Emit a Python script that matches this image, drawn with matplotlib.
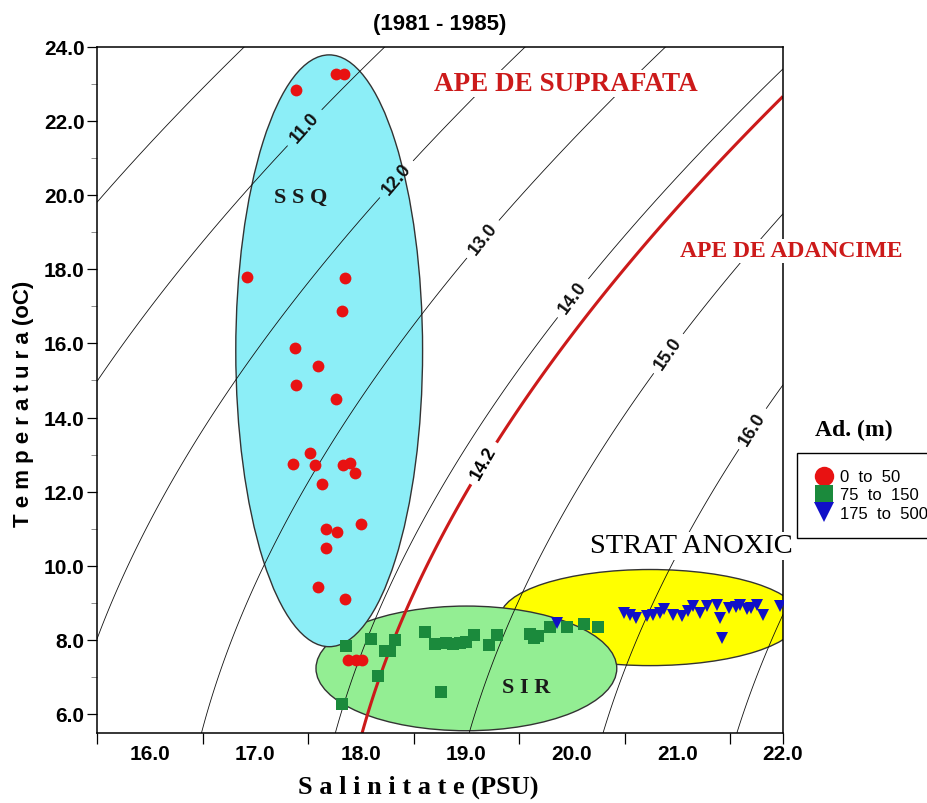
import numpy as np
import matplotlib
matplotlib.use("Agg")
import matplotlib.pyplot as plt
from matplotlib.patches import Ellipse
from matplotlib.lines import Line2D
from matplotlib import font_manager as fm

# --- data (salinity PSU, temperature oC) ---
red_sal = [17.39, 17.76, 17.84, 16.92, 17.85, 17.82, 17.38, 17.59, 17.39, 17.76,
           17.52, 17.36, 17.57, 17.83, 17.90, 17.94, 17.63, 17.67, 17.77, 18.00,
           17.67, 17.59, 17.85, 17.88, 17.95, 18.01]
red_temp = [22.84, 23.27, 23.27, 17.78, 17.75, 16.88, 15.88, 15.38, 14.87, 14.51,
            13.05, 12.74, 12.72, 12.72, 12.78, 12.51, 12.22, 11.01, 10.92, 11.12,
            10.49, 9.44, 9.12, 7.46, 7.46, 7.46]

green_sal = [17.86, 18.10, 18.32, 18.23, 18.28, 18.16, 17.82, 18.61, 18.70, 18.81,
             18.94, 19.07, 19.21, 19.29, 18.76, 19.60, 19.68, 19.64, 19.79, 19.95,
             20.11, 20.25, 18.87, 19.00]
green_temp = [7.84, 8.04, 8.00, 7.72, 7.71, 7.03, 6.29, 8.22, 7.89, 7.93,
              7.93, 8.13, 7.86, 8.13, 6.61, 8.16, 8.11, 8.05, 8.36, 8.36,
              8.44, 8.36, 7.90, 7.95]

blue_sal = [19.86, 20.49, 20.61, 20.71, 20.77, 20.87, 20.96, 21.04, 21.15, 21.21,
            21.28, 21.37, 21.40, 21.42, 21.49, 21.59, 21.66, 21.75, 21.81, 21.97,
            20.55, 20.83, 21.10, 21.55, 21.70]
blue_temp = [8.47, 8.74, 8.61, 8.65, 8.69, 8.83, 8.69, 8.65, 8.92, 8.74,
             8.92, 8.96, 8.61, 8.07, 8.87, 8.96, 8.83, 8.96, 8.69, 8.92,
             8.68, 8.72, 8.80, 8.90, 8.88]

legend_labels = ["0  to  50", "75  to  150", "175  to  500"]

plain_levels = [10.0, 17.0]
label_levels = [11.0, 12.0, 13.0, 14.0, 15.0, 16.0]
boundary_level = [14.2]
label_pos = [(17.49, 21.76), (18.34, 20.42), (19.16, 18.80),
             (20.03, 17.18), (20.90, 15.75), (21.72, 13.68)]
boundary_label_pos = [(19.18, 12.74)]

xticks = [16.0, 17.0, 18.0, 19.0, 20.0, 21.0, 22.0]
xtick_marks = [15.5, 16.5, 17.5, 18.5, 19.5, 20.5, 21.5, 22.0]
yticks = [6.0, 8.0, 10.0, 12.0, 14.0, 16.0, 18.0, 20.0, 22.0, 24.0]
yminor = [7.0, 9.0, 11.0, 13.0, 15.0, 17.0, 19.0, 21.0, 23.0]


def sigma_t(S, T):
    # UNESCO EOS-80, surface pressure
    rw = (999.842594 + 6.793952e-2 * T - 9.095290e-3 * T**2 + 1.001685e-4 * T**3
          - 1.120083e-6 * T**4 + 6.536332e-9 * T**5)
    a = 0.824493 - 4.0899e-3 * T + 7.6438e-5 * T**2 - 8.2467e-7 * T**3 + 5.3875e-9 * T**4
    b = -5.72466e-3 + 1.0227e-4 * T - 1.6546e-6 * T**2
    return rw + a * S + b * S**1.5 + 4.8314e-4 * S**2 - 1000.0


names = {f.name for f in fm.fontManager.ttflist}
narrow = "Liberation Sans Narrow" in names
SANS = "Liberation Sans"
SERIF = "Liberation Serif"

fig = plt.figure(figsize=(9.27, 8.035), dpi=100)
ax = fig.add_axes([97 / 927, 70 / 803, 686 / 927, 686 / 803])

# water mass ellipses
ax.add_patch(Ellipse((20.74, 8.61), 2.84, 2.59, facecolor="#FFFF00",
                     edgecolor="#333333", lw=1, zorder=1.0))
ax.add_patch(Ellipse((19.00, 7.24), 2.85, 3.36, facecolor="#93EE93",
                     edgecolor="#333333", lw=1, zorder=1.1))
ax.add_patch(Ellipse((17.70, 15.80), 1.77, 15.95, facecolor="#8CEEF7",
                     edgecolor="#333333", lw=1, zorder=1.2))

# isopycnals
ss, tt = np.meshgrid(np.linspace(15.5, 22.0, 400), np.linspace(5.5, 24.0, 400))
sig = sigma_t(ss, tt)
ax.contour(ss, tt, sig, levels=plain_levels, colors="#111111", linewidths=0.6, zorder=2)
cs = ax.contour(ss, tt, sig, levels=label_levels, colors="#111111",
                linewidths=0.6, zorder=2)
lbl = ax.clabel(cs, fmt="%.1f", fontsize=13, inline=True,
                inline_spacing=4, manual=label_pos)
cs2 = ax.contour(ss, tt, sig, levels=boundary_level, colors="#CC1A1A",
                 linewidths=2.2, zorder=2.1)
lbl2 = ax.clabel(cs2, fmt="%.1f", fontsize=13, inline=True, inline_spacing=4,
                 colors="black", manual=boundary_label_pos)
for t in list(lbl) + list(lbl2):
    t.set_fontweight("bold")
    t.set_family(SANS)

# points
ax.plot(red_sal, red_temp, "o", color="#E81212", ms=8.5, mew=0, zorder=3)
ax.plot(green_sal, green_temp, "s", color="#1B8A3C", ms=8.5, mew=0, zorder=3)
ax.plot(blue_sal, blue_temp, "v", color="#1010C8", ms=9, mew=0, zorder=3.1)
ax.set_xlim(15.5, 22.0)
ax.set_ylim(5.5, 24.0)

# annotations
wbox = dict(facecolor="white", edgecolor="none", pad=1)
ax.text(19.944, 23.0, "APE DE SUPRAFATA", color="#CC1A1A", family=SERIF,
        fontweight="bold", fontsize=19.5, ha="center", va="center", bbox=wbox, zorder=4)
ax.text(22.076, 18.48, "APE DE ADANCIME", color="#CC1A1A", family=SERIF,
        fontweight="bold", fontsize=17, ha="center", va="center", bbox=wbox,
        zorder=4, clip_on=False)
ax.text(21.128, 10.53, "STRAT ANOXIC", color="black", family=SERIF,
        fontsize=20.5, ha="center", va="center", bbox=wbox, zorder=4)
ax.text(17.433, 19.93, "S S Q", color="#1a1a1a", family=SERIF, fontweight="bold",
        fontsize=16, ha="center", va="center", zorder=4)
ax.text(19.565, 6.73, "S I R", color="#1a1a1a", family=SERIF, fontweight="bold",
        fontsize=16, ha="center", va="center", zorder=4)

# axes styling
for sp in ax.spines.values():
    sp.set_linewidth(1.1)
ax.set_xticks(xtick_marks)
ax.set_xticklabels([])
ax.set_xticks(xticks, minor=True)
ax.set_xticklabels(["%.1f" % v for v in xticks], minor=True)
ax.xaxis.remove_overlapping_locs = False
ax.tick_params(axis="x", which="major", direction="out", length=8, width=0.9)
ax.tick_params(axis="x", which="minor", length=0, pad=8, labelsize=15)
ax.set_yticks(yticks)
ax.set_yticklabels(["%.1f" % v for v in yticks])
ax.set_yticks(yminor, minor=True)
ax.tick_params(axis="y", which="major", direction="out", length=7, width=0.9,
               pad=2, labelsize=15)
ax.tick_params(axis="y", which="minor", direction="out", length=4, width=0.6,
               color="#777777")
for t in ax.get_xticklabels(minor=True) + ax.get_yticklabels():
    t.set_fontweight("bold")
    t.set_family(SANS)

ax.set_title("(1981 - 1985)", fontsize=16, fontweight="bold", family=SANS, pad=12)

if narrow:
    fig.text(24 / 927, 1 - 404 / 803, "T e m p e r a t u r a (oC)", rotation=90,
             family="Liberation Sans Narrow", fontweight="bold", fontsize=19,
             ha="center", va="center")
else:
    fig.text(24 / 927, 1 - 404 / 803, "T e m p e r a t u r a (oC)", rotation=90,
             family=SANS, fontweight="bold", fontsize=16, ha="center", va="center")
fig.text(418 / 927, 1 - 787 / 803, "S a l i n i t a t e (PSU)", family=SERIF,
         fontweight="bold", fontsize=19, ha="center", va="center")

# legend
fig.text(854 / 927, 1 - 430 / 803, "Ad. (m)", family=SERIF, fontweight="bold",
         fontsize=17, ha="center", va="center")
handles = [Line2D([], [], ls="none", marker="o", color="#E81212", ms=14, mew=0),
           Line2D([], [], ls="none", marker="s", color="#1B8A3C", ms=13.5, mew=0),
           Line2D([], [], ls="none", marker="v", color="#1010C8", ms=14, mew=0)]
leg = fig.legend(handles, legend_labels, loc="upper left",
                 bbox_to_anchor=(797 / 927, 1 - 453 / 803), frameon=True,
                 fancybox=False, edgecolor="black", framealpha=1,
                 prop={"family": SANS, "size": 12}, handlelength=1.2,
                 handletextpad=0.4, labelspacing=0.2, borderpad=1.0,
                 borderaxespad=0)
leg.get_frame().set_linewidth(1.0)

fig.savefig("out.png", dpi=100)
